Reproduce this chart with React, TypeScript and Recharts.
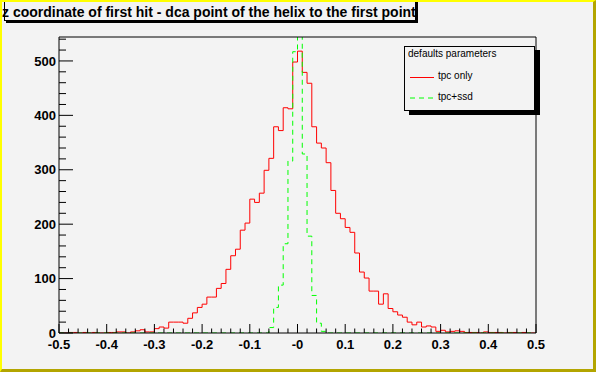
import React from 'react';
import { ComposedChart, Line, XAxis, YAxis, Legend } from 'recharts';

// ---- data ----
const BIN_LOW = -0.5;
const BIN_WIDTH = 0.01;

// red histogram: "tpc only" (100 bins of 0.01 from -0.5 to 0.5)
const TPC_ONLY = [
  0, 0, 1, 1, 0, 1, 0, 1, 0, 0,
  1, 1, 2, 2, 0, 2, 4, 6, 2, 2,
  8, 11, 9, 20, 20, 20, 18, 27, 37, 47,
  53, 66, 66, 82, 91, 117, 142, 154, 189, 202,
  246, 240, 257, 299, 321, 379, 372, 414, 412, 498,
  518, 479, 459, 379, 349, 340, 313, 262, 220, 210,
  194, 185, 147, 112, 101, 77, 77, 53, 72, 45,
  39, 33, 29, 20, 15, 20, 11, 13, 11, 3,
  5, 2, 3, 4, 3, 1, 1, 1, 0, 2,
  1, 1, 1, 0, 1, 1, 0, 1, 0, 0,
];

// green histogram: "tpc+ssd"
const TPC_SSD = [
  0, 0, 0, 0, 0, 0, 0, 0, 0, 0,
  0, 0, 0, 0, 0, 0, 0, 0, 0, 0,
  0, 0, 0, 0, 0, 0, 0, 0, 0, 0,
  0, 0, 0, 0, 0, 0, 0, 0, 0, 0,
  0, 0, 0, 0, 10, 47, 88, 164, 316, 517,
  555, 329, 178, 69, 18, 3, 0, 0, 0, 0,
  0, 0, 0, 0, 0, 0, 0, 0, 0, 0,
  0, 0, 0, 0, 0, 0, 0, 0, 0, 0,
  0, 0, 0, 0, 0, 0, 0, 0, 0, 0,
  0, 0, 0, 0, 0, 0, 0, 0, 0, 0,
];

const X_MAJOR = [-0.5, -0.4, -0.3, -0.2, -0.1, 0, 0.1, 0.2, 0.3, 0.4, 0.5];
const X_LABELS = ['-0.5', '-0.4', '-0.3', '-0.2', '-0.1', '-0', '0.1', '0.2', '0.3', '0.4', '0.5'];
const X_MINOR_STEP = 0.02;
const Y_MAJOR = [0, 100, 200, 300, 400, 500];
const Y_LABELS = ['0', '100', '200', '300', '400', '500'];
const Y_MINOR_STEP = 20;
const Y_MAX = 544;

const TITLE = 'z coordinate of first hit - dca point of the helix to the first point';
const LEGEND_TITLE = 'defaults parameters';
const SERIES = [
  { key: 'tpc', name: 'tpc only', color: '#ff0000', dash: undefined as string | undefined },
  { key: 'ssd', name: 'tpc+ssd', color: '#00ff00', dash: '5 4' },
];

// ---- derived tables ----
const r2 = (v: number) => Math.round(v * 1000) / 1000;
const data = TPC_ONLY.map((v, i) => ({ x: r2(BIN_LOW + i * BIN_WIDTH), tpc: v, ssd: TPC_SSD[i] }));
data.push({
  x: r2(BIN_LOW + TPC_ONLY.length * BIN_WIDTH),
  tpc: TPC_ONLY[TPC_ONLY.length - 1],
  ssd: TPC_SSD[TPC_SSD.length - 1],
});

const xTicks: number[] = [];
for (let i = 0; r2(X_MAJOR[0] + i * X_MINOR_STEP) <= X_MAJOR[X_MAJOR.length - 1] + 1e-9; i++) {
  xTicks.push(r2(X_MAJOR[0] + i * X_MINOR_STEP));
}
const yTicks: number[] = [];
for (let v = 0; v <= Y_MAX; v += Y_MINOR_STEP) yTicks.push(v);

const FONT = "'Liberation Sans', Arial, Helvetica, sans-serif";

const XTick = (props: any) => {
  const { x, y, payload } = props;
  const idx = X_MAJOR.findIndex((m) => Math.abs(m - payload.value) < 1e-6);
  const major = idx >= 0;
  return (
    <g>
      <line x1={x} x2={x} y1={y} y2={y - (major ? 9 : 4.5)} stroke="#000" strokeWidth={1} />
      {major && (
        <text x={x} y={y + 16} textAnchor="middle" fontFamily={FONT} fontWeight="bold" fontSize={13} fill="#000">
          {X_LABELS[idx]}
        </text>
      )}
    </g>
  );
};

const YTick = (props: any) => {
  const { x, y, payload } = props;
  const idx = Y_MAJOR.indexOf(payload.value);
  const major = idx >= 0;
  return (
    <g>
      <line x1={x} x2={x + (major ? 14 : 7)} y1={y} y2={y} stroke="#000" strokeWidth={1} />
      {major && (
        <text x={x - 3} y={y + 4.7} textAnchor="end" fontFamily={FONT} fontWeight="bold" fontSize={13} fill="#000">
          {Y_LABELS[idx]}
        </text>
      )}
    </g>
  );
};

const LegendBox = () => (
  <div
    style={{
      position: 'relative',
      width: 131,
      height: 65,
      boxSizing: 'border-box',
      border: '1px solid #000',
      background: '#f3f3f3',
      boxShadow: '5px 4px 0 #000',
      fontFamily: FONT,
      fontSize: 10,
      color: '#000',
    }}
  >
    <div style={{ position: 'absolute', left: 3, top: 1, lineHeight: '12px', whiteSpace: 'nowrap' }}>{LEGEND_TITLE}</div>
    <svg width={129} height={63} style={{ position: 'absolute', left: 0, top: 0 }}>
      {SERIES.map((s, i) => (
        <line
          key={s.key}
          x1={5}
          x2={29}
          y1={30.5 + i * 20.5}
          y2={30.5 + i * 20.5}
          stroke={s.color}
          strokeWidth={1}
          strokeDasharray={s.dash}
        />
      ))}
    </svg>
    {SERIES.map((s, i) => (
      <div
        key={s.key}
        style={{ position: 'absolute', left: 33, top: 23 + i * 20.5, lineHeight: '12px', whiteSpace: 'nowrap' }}
      >
        {s.name}
      </div>
    ))}
  </div>
);

export default function App() {
  return (
    <div
      style={{
        position: 'absolute',
        left: 0,
        top: 0,
        width: 596,
        height: 372,
        background: '#f3f3f3',
        overflow: 'hidden',
      }}
    >
      <ComposedChart width={596} height={372} data={data} margin={{ top: 36, right: 59, left: 58, bottom: 38 }}>
        <XAxis
          dataKey="x"
          type="number"
          domain={[X_MAJOR[0], X_MAJOR[X_MAJOR.length - 1]]}
          ticks={xTicks}
          interval={0}
          height={1}
          tickSize={0}
          tickMargin={0}
          tickLine={false}
          tick={<XTick />}
          axisLine={{ stroke: '#000', strokeWidth: 1 }}
          allowDataOverflow
        />
        <XAxis
          xAxisId="top"
          orientation="top"
          dataKey="x"
          type="number"
          domain={[X_MAJOR[0], X_MAJOR[X_MAJOR.length - 1]]}
          height={1}
          tick={false}
          tickLine={false}
          axisLine={{ stroke: '#000', strokeWidth: 1 }}
        />
        <YAxis
          type="number"
          domain={[0, Y_MAX]}
          ticks={yTicks}
          interval={0}
          width={1}
          tickSize={0}
          tickMargin={0}
          tickLine={false}
          tick={<YTick />}
          axisLine={{ stroke: '#000', strokeWidth: 1 }}
          allowDataOverflow
        />
        <YAxis
          yAxisId="right"
          orientation="right"
          type="number"
          domain={[0, Y_MAX]}
          width={1}
          tick={false}
          tickLine={false}
          axisLine={{ stroke: '#000', strokeWidth: 1 }}
        />
        {SERIES.map((s) => (
          <Line
            key={s.key}
            dataKey={s.key}
            name={s.name}
            type="stepAfter"
            stroke={s.color}
            strokeWidth={1}
            strokeDasharray={s.dash}
            dot={false}
            activeDot={false}
            isAnimationActive={false}
          />
        ))}
        <Legend
          layout="horizontal"
          verticalAlign="middle"
          align="center"
          content={() => <LegendBox />}
          wrapperStyle={{ left: 404, top: 46, width: 131, height: 65 }}
        />
      </ComposedChart>
      <div
        style={{
          position: 'absolute',
          left: 4,
          top: -1,
          width: 412,
          height: 22,
          boxSizing: 'border-box',
          border: '1px solid #000',
          background: '#f3f3f3',
          boxShadow: '2px 2px 0 #000',
        }}
      />
      <div
        style={{
          position: 'absolute',
          left: 2,
          top: 4,
          fontFamily: FONT,
          fontWeight: 'bold',
          fontSize: 14,
          lineHeight: '16px',
          whiteSpace: 'nowrap',
          color: '#000',
        }}
      >
        {TITLE}
      </div>
      <div
        style={{
          position: 'absolute',
          left: 0,
          top: 0,
          width: 596,
          height: 372,
          boxSizing: 'border-box',
          borderTop: '2px solid #ffff00',
          borderLeft: '2px solid #ffff00',
          borderRight: '3px solid #b3a500',
          borderBottom: '3px solid #b3a500',
          pointerEvents: 'none',
        }}
      />
    </div>
  );
}
